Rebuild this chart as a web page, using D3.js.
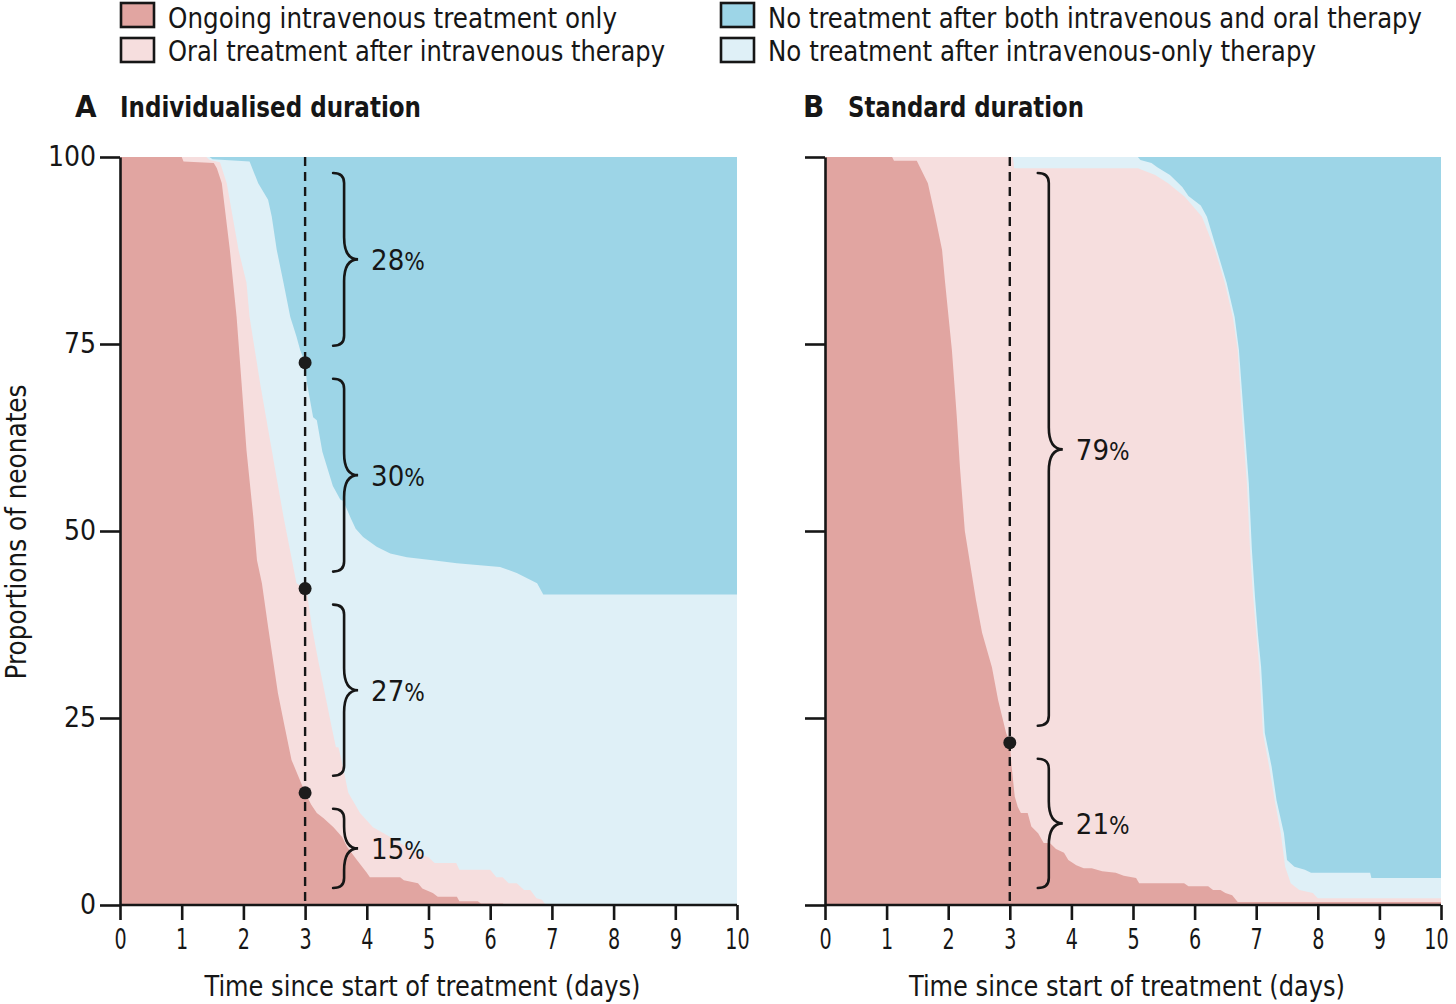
<!DOCTYPE html>
<html>
<head>
<meta charset="utf-8">
<script src="https://cdn.jsdelivr.net/npm/d3@7"></script>
<style>
  body { margin: 0; background: #fff; }
  svg text { font-family: "Liberation Sans Narrow", "DejaVu Sans Condensed", "Arial Narrow", sans-serif; fill: #161616; }
</style>
</head>
<body>
<div id="chart"></div>
<script>
// ---- data: cumulative % of neonates, [day, percent] ----
// A: individualised duration
var ivOnlyA = [[0,100],[1.0,100],[1.03,99.4],[1.52,99.2],[1.57,98.5],[1.65,96.5],[1.78,87.6],[1.89,78.6],[1.97,69.8],[2.05,60.8],[2.16,51.9],[2.22,46.1],[2.3,43],[2.4,37.2],[2.56,28.3],[2.67,23.8],[2.78,19.4],[2.9,17],[3.0,15],[3.1,13.4],[3.19,12.3],[3.3,11.6],[3.46,10.4],[3.6,9.1],[3.68,7.8],[3.84,6],[4.0,4.3],[4.05,3.7],[4.54,3.7],[4.6,3.3],[4.83,2.9],[4.9,2.2],[5.07,1.6],[5.15,1.1],[5.46,1.1],[5.5,0.5],[5.8,0.5],[5.85,0.2],[6.2,0.2],[6.25,0],[10,0]];
var anyTreatA = [[0,100],[1.4,100],[1.45,99.6],[1.62,99.3],[1.73,96.5],[1.92,87.6],[2.05,83.2],[2.1,78.6],[2.27,69.8],[2.46,60.8],[2.65,51.9],[2.86,43],[3.0,42.3],[3.03,41.7],[3.11,37.2],[3.21,32.8],[3.32,28.3],[3.43,23.8],[3.5,21.1],[3.54,21.1],[3.59,19.4],[3.7,15],[3.89,12.3],[4.1,10.4],[4.38,9.1],[4.54,8.3],[4.75,7.2],[5.0,6.4],[5.1,5.6],[5.45,5.6],[5.5,4.7],[6.0,4.7],[6.1,3.7],[6.2,3.7],[6.3,2.9],[6.43,2.9],[6.55,2.0],[6.65,2.0],[6.75,0.9],[6.84,0.7],[6.9,0],[10,0]];
var notBothA = [[0,100],[1.45,100],[1.5,99.7],[2.1,99.4],[2.24,96.5],[2.4,94.3],[2.46,92],[2.54,87.6],[2.65,83.2],[2.76,78.6],[2.86,76],[2.92,74.2],[3.0,72.5],[3.03,69.8],[3.13,65.2],[3.19,64.8],[3.28,60.6],[3.45,56],[3.57,54.2],[3.62,54],[3.74,51.7],[3.82,50.3],[3.94,49.2],[4.16,47.9],[4.38,47],[4.65,46.5],[5.07,46.1],[5.46,45.7],[6.16,45.2],[6.43,44.4],[6.76,43],[6.86,41.5],[10,41.5]];

// B: standard duration
var ivOnlyB = [[0,100],[1.09,100],[1.12,99.5],[1.49,99.5],[1.55,98.5],[1.67,96.5],[1.79,92],[1.9,87.6],[1.95,83.2],[2.06,74.2],[2.14,65.2],[2.19,58.6],[2.27,50],[2.45,40.8],[2.55,36.4],[2.71,31.8],[2.81,27.4],[2.94,23],[3.0,21.7],[3.03,18.5],[3.08,14.5],[3.13,13.1],[3.18,12.3],[3.29,12.3],[3.35,10.5],[3.46,9.6],[3.55,8.3],[3.65,8.3],[3.75,7.5],[3.88,7],[3.95,6],[4.08,5.3],[4.2,4.9],[4.33,4.9],[4.5,4.5],[4.72,4.3],[4.85,3.9],[5.05,3.6],[5.1,2.9],[5.83,2.9],[5.9,2.5],[6.22,2.5],[6.3,2.0],[6.42,2.0],[6.5,1.6],[6.61,1.3],[6.7,0.4],[10,0.4]];
var anyTreatB = [[0,100],[3.05,100],[3.07,98.5],[5.08,98.5],[5.36,97.6],[5.57,96.5],[5.84,94.7],[6.12,92],[6.33,87.6],[6.49,83.2],[6.62,78.6],[6.7,74.2],[6.77,65.2],[6.85,56.4],[6.9,47.5],[6.95,41.2],[7.05,31.8],[7.11,23],[7.21,18.5],[7.3,14],[7.4,9.6],[7.47,5.1],[7.56,2.9],[7.7,2.0],[7.92,1.6],[8.0,0.9],[10,0.9]];
var notBothB = [[0,100],[5.08,100],[5.12,99.6],[5.3,99.2],[5.4,98.6],[5.6,97.6],[5.8,96],[5.9,94.8],[6.1,93.5],[6.2,92],[6.36,87.6],[6.52,83.2],[6.65,78.6],[6.72,74.2],[6.8,65.2],[6.88,56.4],[6.93,47.5],[6.98,41.2],[7.03,36],[7.08,31.8],[7.14,23],[7.25,18.5],[7.33,14],[7.45,9.6],[7.5,6],[7.62,5.1],[7.79,4.7],[7.89,4.3],[8.85,4.3],[8.87,3.6],[10,3.6]];

// day-3 markers and bracket labels
var markDay = 3;
var dotsA = [72.5, 42.3, 15];
var spansA = [[100,72.5],[72.5,42.3],[42.3,15],[15,0]];
var pctA = ["28", "30", "27", "15"];
var dotsB = [21.7];
var spansB = [[100,21.7],[21.7,0]];
var pctB = ["79", "21"];

var dayTicks = [0,1,2,3,4,5,6,7,8,9,10];
var pctTicks = [0,25,50,75,100];

var legendLabels = ["Ongoing intravenous treatment only", "Oral treatment after intravenous therapy",
                    "No treatment after both intravenous and oral therapy", "No treatment after intravenous-only therapy"];
var colors = { iv: "#e1a5a1", oral: "#f6dede", none: "#dff0f7", both: "#9dd5e7" };
var legendColors = [colors.iv, colors.oral, colors.both, colors.none];

// squeeze a text to a given width (the original face is narrower than ours)
var fit = (sel, w) => sel.attr("textLength", w).attr("lengthAdjust", "spacingAndGlyphs");

// ---- drawing ----
var svg = d3.select("#chart").append("svg")
    .attr("width", 1456).attr("height", 1004)
    .attr("viewBox", [0, 0, 1456, 1004]);

var y = d3.scaleLinear().domain([0, 100]).range([905, 157]);

var panels = [
  { letter: "A", title: "Individualised duration", titleW: 301, left: 120, right: 737, titleX: 75,
    iv: ivOnlyA, any: anyTreatA, notBoth: notBothA, dots: dotsA, spans: spansA, pct: pctA, labels: true, lastDx: 0 },
  { letter: "B", title: "Standard duration", titleW: 236, left: 825, right: 1441, titleX: 803,
    iv: ivOnlyB, any: anyTreatB, notBoth: notBothB, dots: dotsB, spans: spansB, pct: pctB, labels: false, lastDx: -5 }
];

panels.forEach(function(p) {
  var x = d3.scaleLinear().domain([0, 10]).range([p.left, p.right]);
  var g = svg.append("g");

  // layers painted back to front
  var full = d3.area().x(d => x(d[0])).y0(y(0)).y1(y(100));
  var upTo = d3.area().x(d => x(d[0])).y0(y(0)).y1(d => y(d[1]));
  g.append("path").datum(p.notBoth).attr("d", full).attr("fill", colors.both);
  g.append("path").datum(p.notBoth).attr("d", upTo).attr("fill", colors.none);
  g.append("path").datum(p.any).attr("d", upTo).attr("fill", colors.oral);
  g.append("path").datum(p.iv).attr("d", upTo).attr("fill", colors.iv);

  // axes
  var xAxis = g.append("g").attr("transform", "translate(0,905)")
      .call(d3.axisBottom(x).tickValues(dayTicks).tickSize(15).tickSizeOuter(0).tickPadding(9));
  var yAxis = g.append("g").attr("transform", "translate(" + p.left + ",0)")
      .call(d3.axisLeft(y).tickValues(pctTicks).tickSize(20).tickSizeOuter(0).tickPadding(4));
  if (!p.labels) yAxis.selectAll("text").remove();
  [xAxis, yAxis].forEach(function(a) {
    a.selectAll("path, line").attr("stroke", "#161616").attr("stroke-width", 2.6);
    a.selectAll("text").attr("font-size", 28).attr("font-family", null).attr("fill", "#161616");
  });
  xAxis.select(".domain").attr("d", "M" + p.left + ",0H" + p.right);
  xAxis.selectAll("text").each(function(d) {
    fit(d3.select(this), this.getComputedTextLength() * 0.76);
    if (d === 10) d3.select(this).attr("dx", p.lastDx);
  });

  // dashed day-3 line and dots
  var mx = x(markDay);
  g.append("line").attr("x1", mx).attr("x2", mx).attr("y1", y(100)).attr("y2", y(0))
    .attr("stroke", "#161616").attr("stroke-width", 2.4).attr("stroke-dasharray", "9,6");
  g.selectAll("circle.dot").data(p.dots).join("circle")
    .attr("cx", mx).attr("cy", d => y(d)).attr("r", 6.5).attr("fill", "#1c1c1c");

  // curly brackets with percentages
  var x0 = mx + 28, xs = mx + 39, xt = mx + 53;
  p.spans.forEach(function(s, i) {
    var y0 = y(s[0]) + 16, y1 = y(s[1]) - 17, ym = (y0 + y1) / 2, r = 10, t = 22;
    var dPath = "M" + x0 + "," + y0 + " Q" + xs + "," + y0 + " " + xs + "," + (y0 + r) +
      " L" + xs + "," + (ym - t) + " Q" + xs + "," + ym + " " + xt + "," + ym +
      " Q" + xs + "," + ym + " " + xs + "," + (ym + t) +
      " L" + xs + "," + (y1 - r) + " Q" + xs + "," + y1 + " " + x0 + "," + y1;
    g.append("path").attr("d", dPath).attr("fill", "none")
      .attr("stroke", "#161616").attr("stroke-width", 2.6).attr("stroke-linecap", "round");
    var lab = g.append("text").attr("x", mx + 66).attr("y", ym).attr("dy", "0.36em")
      .attr("font-size", 29).text(p.pct[i]);
    lab.append("tspan").attr("font-size", 24).text("%");
  });

  // panel titles
  g.append("text").attr("x", p.titleX).attr("y", 117).attr("font-size", 31)
    .attr("font-weight", "bold").text(p.letter);
  g.append("text").attr("x", p.titleX + 45).attr("y", 117).attr("font-size", 28)
    .attr("font-weight", "bold").text(p.title).call(fit, p.titleW);

  // x-axis title
  g.append("text").attr("x", (p.left + p.right) / 2 - 6).attr("y", 996)
    .attr("text-anchor", "middle").attr("font-size", 28)
    .text("Time since start of treatment (days)").call(fit, 436);
});

// y-axis title
svg.append("text").attr("transform", "translate(26,532) rotate(-90)")
  .attr("text-anchor", "middle").attr("font-size", 28).text("Proportions of neonates").call(fit, 295);

// legend
var legendW = [449, 497, 654, 548];
var legend = svg.append("g");
legendLabels.forEach(function(label, i) {
  var col = Math.floor(i / 2), row = i % 2;
  var lx = col === 0 ? 121 : 721, ly = row === 0 ? 3 : 38;
  legend.append("rect").attr("x", lx).attr("y", ly).attr("width", 33).attr("height", 24)
    .attr("fill", legendColors[i]).attr("stroke", "#161616").attr("stroke-width", 2.6);
  legend.append("text").attr("x", lx + 47).attr("y", ly + 23 + (row === 0 ? 2 : 0)).attr("font-size", 28)
    .text(label).call(fit, legendW[i]);
});
</script>
</body>
</html>
